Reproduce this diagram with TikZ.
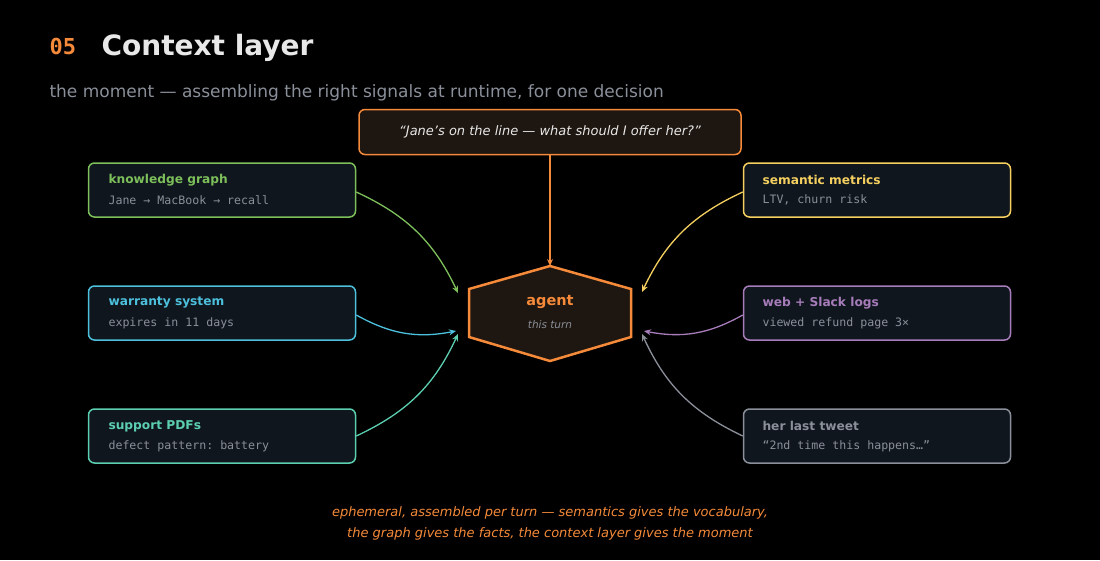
\documentclass[tikz,border=0pt]{standalone}
\usepackage{fontspec}
\setmainfont{DejaVu Sans}
\setmonofont{DejaVu Sans Mono}
\usetikzlibrary{arrows.meta}
\definecolor{bg}{HTML}{000000}
\definecolor{boxfill}{HTML}{10161E}
\definecolor{hexfill}{HTML}{1E1610}
\definecolor{orng}{HTML}{F58A3A}
\definecolor{grn}{HTML}{7DBF5A}
\definecolor{cyn}{HTML}{4CC0DC}
\definecolor{tel}{HTML}{5CCFB0}
\definecolor{yel}{HTML}{F5D060}
\definecolor{prp}{HTML}{A77CBA}
\definecolor{gry}{HTML}{8A8F99}
\definecolor{txt}{HTML}{E8E8E8}
\tikzset{
	source/.style   = {draw=#1, line width=1.5pt, rounded corners=6pt, fill=boxfill,
		minimum width=267pt, minimum height=54pt},
	head/.style     = {anchor=west, text=#1, font=\fontsize{12.2}{14}\selectfont\bfseries},
	sub/.style      = {anchor=west, text=gry, font=\fontsize{11.6}{13}\ttfamily},
	feed/.style     = {draw=#1, line width=1.3pt, -{Stealth[length=7pt,width=6pt]}}
}
\begin{document}
\begin{tikzpicture}[x=1pt, y=-1pt]
	\fill[bg] (0,0) rectangle (1100,560);
	\useasboundingbox (0,0) rectangle (1100,560);

	% title
	\node[anchor=base west, text=orng, font=\fontsize{22}{26}\ttfamily\bfseries] (num) at (46,54) {05};
	\node[anchor=base west, text=txt, font=\fontsize{28}{32}\bfseries] (title) at (98,55) {Context layer};
	\node[anchor=base west, text=gry, font=\fontsize{17}{20}\selectfont] (subtitle) at (46,97)
		{the moment — assembling the right signals at runtime, for one decision};

	% question
	\node[draw=orng, line width=1.5pt, rounded corners=6pt, fill=hexfill, minimum width=382pt,
		minimum height=45pt, text=txt, font=\fontsize{13}{15}\itshape] (quest) at (550,132)
		{“Jane's on the line — what should I offer her?”};

	% agent
	\filldraw[draw=orng, fill=hexfill, line width=2.5pt]
		(550,266) -- (631,289) -- (631,337) -- (550,361) -- (469,337) -- (469,289) -- cycle;
	\coordinate (agtop) at (550,266);
	\node[text=orng, font=\fontsize{14.5}{16}\bfseries] (agent) at (550,302) {agent};
	\node[text=gry, font=\fontsize{10.5}{12}\itshape] (turn) at (550,325) {this turn};

	% sources
	\node[source=grn] (kg) at (222,190) {};
	\node[source=cyn] (war) at (222,313) {};
	\node[source=tel] (pdf) at (222,436) {};
	\node[source=yel] (sem) at (877,190) {};
	\node[source=prp] (web) at (877,313) {};
	\node[source=gry] (tweet) at (877,436) {};

	\node[head=grn] at (105,180) {knowledge graph};
	\node[sub] at (105,200) {Jane → MacBook → recall};
	\node[head=cyn] at (105,303) {warranty system};
	\node[sub] at (105,323) {expires in 11 days};
	\node[head=tel] at (105,426) {support PDFs};
	\node[sub] at (105,446) {defect pattern: battery};
	\node[head=yel] at (759,180) {semantic metrics};
	\node[sub] at (759,200) {LTV, churn risk};
	\node[head=prp] at (759,303) {web + Slack logs};
	\node[sub] at (759,323) {viewed refund page 3×};
	\node[head=gry] at (759,426) {her last tweet};
	\node[sub] at (759,446) {“2nd time this happens…”};

	% targets on the agent
	\coordinate (inkg) at (458,293);
	\coordinate (inwar) at (456,331);
	\coordinate (inpdf) at (458,334);
	\coordinate (insem) at (642,292);
	\coordinate (inweb) at (644,331);
	\coordinate (intw) at (642,334);

	% connectors
	\draw[feed=orng] (quest.south) -- (agtop);
	\draw[feed=grn] (kg.east) ++(0,2) to[bend left=20] (inkg);
	\draw[feed=cyn] (war.east) ++(0,2) to[bend right=20] (inwar);
	\draw[feed=tel] (pdf.east) to[bend right=20] (inpdf);
	\draw[feed=yel] (sem.west) ++(0,2) to[bend right=20] (insem);
	\draw[feed=prp] (web.west) ++(0,2) to[bend left=20] (inweb);
	\draw[feed=gry] (tweet.west) to[bend left=20] (intw);

	% footer
	\node[text=orng, font=\fontsize{13}{21}\itshape, align=center] (foot) at (550,523)
		{ephemeral, assembled per turn — semantics gives the vocabulary,\\
		the graph gives the facts, the context layer gives the moment};
\end{tikzpicture}
\end{document}
